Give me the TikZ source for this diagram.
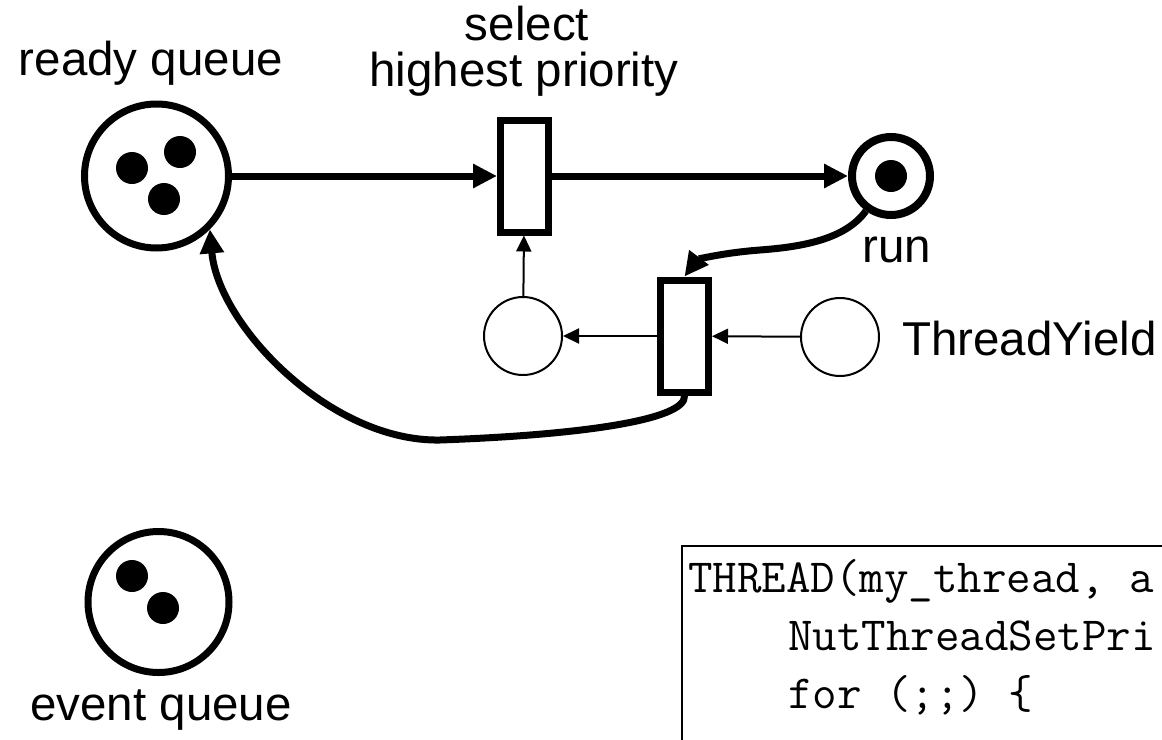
\documentclass[tikz,border=0pt]{standalone}
\usepackage{fontspec}
\setmainfont{Liberation Sans}
\usetikzlibrary{arrows.meta}
\begin{document}
\begin{tikzpicture}[x=1pt,y=-1pt,
  place/.style={circle,draw,inner sep=0pt},
  bigplace/.style={place,line width=7pt},
  smallplace/.style={place,line width=2pt,minimum size=78pt},
  trans/.style={rectangle,draw,line width=7pt,minimum width=48pt,minimum height=112pt,inner sep=0pt,fill=white},
  thick arrow/.style={line width=7pt,-{Triangle[length=24pt,width=23pt]}},
  thin arrow/.style={line width=2pt,-{Triangle[length=16pt,width=15pt]}},
  lbl/.style={font=\fontsize{47.5}{57}\selectfont,inner sep=0pt},
  code/.style={font=\ttfamily\fontsize{47.6}{58}\selectfont,inner sep=0pt,anchor=base west}
]
\useasboundingbox (0,0) rectangle (1162,739);
\fill[white] (0,0) rectangle (1162,739);
\clip (0,0) rectangle (1162,739);

% places and transitions
\node[bigplace,minimum size=144pt] (ready) at (156.5,176) {};
\node[bigplace,minimum size=141pt] (event) at (158.5,602) {};
\node[place,line width=8pt,minimum size=78pt] (run) at (891,176) {};
\node[trans] (t1) at (524.5,176) {};
\node[trans] (t2) at (684.5,336) {};
\node[smallplace] (p1) at (523,336) {};
\node[smallplace] (yield) at (840,337) {};

% tokens
\fill (132,168) circle[radius=16pt];
\fill (180,152) circle[radius=16pt];
\fill (164,199) circle[radius=16pt];
\fill (891,176) circle[radius=16pt];
\fill (132,576) circle[radius=16pt];
\fill (163,608) circle[radius=16pt];

% arcs
\draw[thick arrow] (ready) -- (t1);
\draw[thick arrow] (t1) -- (run);
\draw[thin arrow] (p1) -- (t1);
\draw[thin arrow] (t2) -- (p1);
\draw[thin arrow] (yield) -- (t2);
\draw[thick arrow] (run) .. controls (845,240) and (800,247) .. (760,250)
   .. controls (720,253) and (697,260) .. (t2.north);
\draw[thick arrow] (t2.south) .. controls (687,420) and (580,435) .. (440,440)
   .. controls (330,442) and (218,325) .. (ready.-45);

% labels
\node[lbl,anchor=base] (rq) at (151,75) {ready queue};
\node[lbl,anchor=base] (sel) at (527,40) {select};
\node[lbl,anchor=base] (hp) at (524,86) {highest priority};
\node[lbl,anchor=base] (runl) at (897,262) {run};
\node[lbl,anchor=base west] (ty) at (902,355) {ThreadYield};
\node[lbl,anchor=base] (eq) at (161,720) {event queue};

% code box
\node[draw,line width=2pt,anchor=north west,minimum width=600pt,minimum height=300pt,inner sep=0pt] (codebox) at (681,545) {};
\node[code] (c1) at (688,592) {THREAD(my\_thread, a};
\node[code] (c2) at (788,650) {NutThreadSetPri};
\node[code] (c3) at (788,708) {for (;;) \{};
\end{tikzpicture}
\end{document}
